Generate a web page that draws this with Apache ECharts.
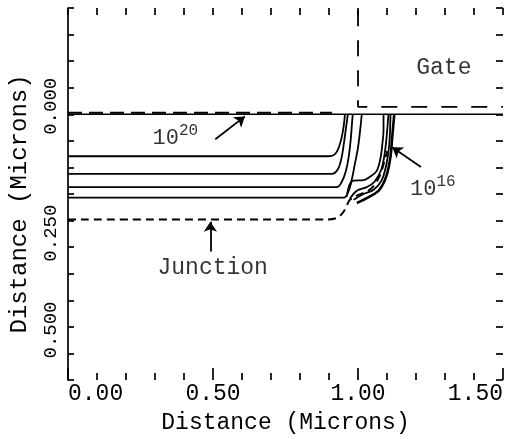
<!DOCTYPE html>
<html>
<head>
<meta charset="utf-8">
<script src="https://cdn.jsdelivr.net/npm/echarts@6/dist/echarts.min.js"></script>
<style>
  html, body { margin: 0; padding: 0; background: #fff; }
  #chart { width: 510px; height: 439px; }
</style>
</head>
<body>
<div id="chart"></div>
<script>
// Doping contours of a source/drain region under a gate edge.
// x: lateral distance (microns), y: depth below the silicon surface (microns).
const surfaceLine = [[0, 0], [1.5, 0]];
const contour1e20 = [[0, -0.003], [0.91, -0.003]];
const contour1 = [[0, 0.079], [0.90, 0.079], [0.921, 0.075], [0.934, 0.062], [0.944, 0.043], [0.951, 0.021], [0.955, 0]];
const contour2 = [[0, 0.112], [0.91, 0.112], [0.931, 0.103], [0.944, 0.080], [0.951, 0.056], [0.958, 0.028], [0.965, 0]];
const contour3 = [[0, 0.137], [0.927, 0.137], [0.944, 0.127], [0.958, 0.107], [0.968, 0.080], [0.975, 0.047], [0.979, 0.019], [0.982, 0]];
const contour4 = [[0, 0.157], [0.951, 0.157], [0.968, 0.144], [0.979, 0.122], [0.989, 0.094], [0.999, 0.066], [1.006, 0.037], [1.013, 0]];
const contour5 = [[0.961, 0.155], [0.972, 0.131], [0.985, 0.125], [1.019, 0.124], [1.040, 0.118], [1.064, 0.107], [1.077, 0.084], [1.084, 0.056], [1.088, 0.028], [1.088, 0]];
const contour6 = [[0.972, 0.159], [0.996, 0.144], [1.030, 0.137], [1.057, 0.127], [1.081, 0.103], [1.094, 0.066], [1.101, 0.028], [1.105, 0]];
const contour7 = [[0.985, 0.161], [1.019, 0.150], [1.054, 0.142], [1.081, 0.125], [1.098, 0.094], [1.108, 0.056], [1.112, 0]];
const contour1e16 = [[0.996, 0.167], [1.040, 0.155], [1.074, 0.142], [1.098, 0.116], [1.112, 0.080], [1.118, 0.043], [1.125, 0]];
const junction = [[0, 0.198], [0.893, 0.198], [0.927, 0.195], [0.948, 0.185], [0.961, 0.172], [0.972, 0.161], [0.996, 0.153], [1.019, 0.148], [1.040, 0.142], [1.057, 0.133], [1.071, 0.120], [1.081, 0.107], [1.091, 0.088], [1.101, 0.069]];
const gateOutline = [[1.0, -0.196], [1.0, -0.014], [1.5, -0.014]];

// Annotation texts and where they sit
const noteTexts = ['Gate', '{b|10}{s|20}', '{b|10}{s|16}', 'Junction'];
const notePositions = [[1.296, -0.088], [0.37, 0.041], [1.258, 0.137], [0.499, 0.290]];
const arrowPaths = [
  [[0.508, 0.047], [0.610, 0.004]],
  [[1.217, 0.099], [1.118, 0.062]],
  [[0.491, 0.258], [0.491, 0.202]]
];

// y tick labels are nudged along the axis
const yLabelShift = { '0.000': 16, '0.250': 28, '0.500': 100 };

const FONT = '"Courier New", "Liberation Mono", monospace';
const INK = '#000';

const chart = echarts.init(document.getElementById('chart'), null, { renderer: 'canvas' });

function contourSeries(data, extra) {
  return Object.assign({
    type: 'line',
    data: data,
    showSymbol: false,
    symbol: 'none',
    smooth: 0.35,
    lineStyle: { color: INK, width: 1.8 },
    silent: true,
    z: 3
  }, extra || {});
}

const yRich = {};
Object.keys(yLabelShift).forEach(function (k, i) {
  yRich['s' + i] = { padding: [0, 0, 0, yLabelShift[k]], fontFamily: FONT, fontSize: 19, color: INK };
});

const tickStyle = { color: INK, width: 1.7 };

const option = {
  animation: false,
  backgroundColor: '#fff',
  grid: { left: 63, right: 7, top: 8, bottom: 57, containLabel: false },
  xAxis: [
    {
      type: 'value', position: 'bottom', min: 0, max: 1.5, interval: 0.5,
      axisLine: { show: false, onZero: false },
      axisTick: { show: true, inside: true, length: 12, lineStyle: tickStyle },
      minorTick: { show: true, splitNumber: 5, length: 7, lineStyle: tickStyle },
      splitLine: { show: false },
      axisLabel: {
        show: true, margin: 2, fontFamily: FONT, fontSize: 23, color: INK,
        alignMinLabel: 'left', alignMaxLabel: 'right',
        formatter: function (v) { return v.toFixed(2); }
      },
      name: 'Distance (Microns)', nameLocation: 'middle', nameGap: 31,
      nameTextStyle: { fontFamily: FONT, fontSize: 23, color: INK }
    },
    {
      type: 'value', position: 'top', min: 0, max: 1.5, interval: 0.1,
      axisLine: { show: false, onZero: false },
      axisTick: { show: true, inside: true, length: 7, lineStyle: tickStyle },
      splitLine: { show: false },
      axisLabel: { show: false }
    }
  ],
  yAxis: [
    {
      type: 'value', position: 'left', inverse: true, min: -0.2, max: 0.5, interval: 0.05,
      axisLine: { show: true, onZero: false, lineStyle: tickStyle },
      axisTick: { show: true, inside: true, length: 6, lineStyle: tickStyle },
      splitLine: { show: false },
      axisLabel: {
        show: true, rotate: 90, margin: 8, fontFamily: FONT, fontSize: 19, color: INK,
        showMinLabel: true, showMaxLabel: true,
        formatter: function (v) {
          const t = v.toFixed(3);
          const keys = Object.keys(yLabelShift);
          const i = keys.indexOf(t);
          return i >= 0 ? '{s' + i + '|' + t + '}' : '';
        },
        rich: yRich
      },
      name: 'Distance (Microns)', nameLocation: 'middle', nameGap: 36, nameRotate: 90,
      nameTextStyle: { fontFamily: FONT, fontSize: 24, color: INK, padding: [0, 20, 0, 0] }
    },
    {
      type: 'value', position: 'right', inverse: true, min: -0.2, max: 0.5, interval: 0.05,
      axisLine: { show: false, onZero: false },
      axisTick: { show: true, inside: true, length: 7, lineStyle: tickStyle },
      splitLine: { show: false },
      axisLabel: { show: false }
    }
  ],
  series: [
    contourSeries(surfaceLine, { smooth: false, lineStyle: { color: INK, width: 1.6 } }),
    contourSeries(contour1e20, { smooth: false, lineStyle: { color: INK, width: 2, type: [14, 7] } }),
    contourSeries(contour1),
    contourSeries(contour2),
    contourSeries(contour3),
    contourSeries(contour4),
    contourSeries(contour5),
    contourSeries(contour6),
    contourSeries(contour7),
    contourSeries(contour1e16, { lineStyle: { color: INK, width: 2.6 } }),
    contourSeries(junction, { lineStyle: { color: INK, width: 2, type: [8, 5] } }),
    contourSeries(gateOutline, { smooth: false, lineStyle: { color: INK, width: 1.8, type: [16, 14] } }),
    {
      type: 'lines',
      coordinateSystem: 'cartesian2d',
      symbol: ['none', 'arrow'],
      symbolSize: 10,
      lineStyle: { color: INK, width: 1.8, opacity: 1 },
      data: arrowPaths.map(function (p) { return { coords: p }; }),
      silent: true,
      z: 4
    },
    {
      type: 'scatter',
      symbolSize: 0,
      silent: true,
      data: notePositions.map(function (p, i) {
        return { value: p, label: { formatter: noteTexts[i] } };
      }),
      label: {
        show: true, position: 'inside', color: INK, fontFamily: FONT, fontSize: 23,
        rich: {
          b: { fontFamily: FONT, fontSize: 22, color: INK, lineHeight: 26, verticalAlign: 'bottom' },
          s: { fontFamily: FONT, fontSize: 16, color: INK, verticalAlign: 'top' }
        }
      },
      z: 5
    }
  ]
};

chart.setOption(option);
</script>
</body>
</html>
